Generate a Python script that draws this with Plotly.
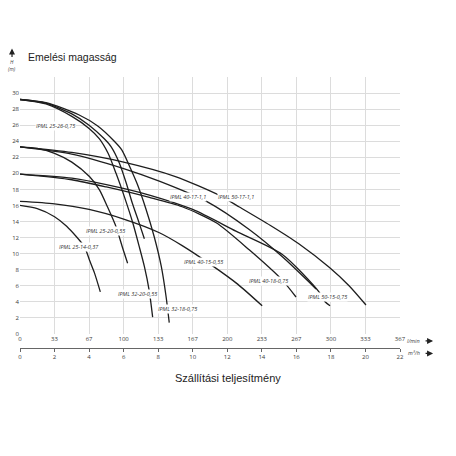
import plotly.graph_objects as go

# flow in m3/h, head in m
q_25_26 = [0, 1.5, 3.0, 4.0, 4.88, 5.28, 5.75, 6.15, 6.5, 6.9, 7.2]
h_25_26 = [29.2, 28.75, 27.4, 26.0, 24.3, 23.3, 21.3, 18.8, 16.3, 13.8, 11.85]

q_32_20 = [0, 1.5, 3.0, 4.0, 4.6, 5.1, 5.56, 6.04, 6.52, 6.9, 7.2, 7.48, 7.68]
h_32_20 = [29.2, 28.65, 27.1, 25.6, 24.3, 22.5, 20.0, 17.1, 13.9, 10.9, 8.4, 5.4, 2.1]

q_32_18 = [0, 1.5, 3.4, 4.5, 5.46, 5.9, 6.4, 6.8, 7.3, 7.77, 8.18, 8.46, 8.64]
h_32_18 = [29.2, 28.8, 27.3, 25.9, 24.0, 22.9, 20.6, 18.6, 15.5, 12.1, 8.4, 4.6, 1.4]

q_25_20 = [0, 1, 2, 3, 4.02, 4.6, 5.07, 5.57, 5.92, 6.23]
h_25_20 = [23.3, 23.1, 22.5, 21.4, 19.6, 17.95, 15.8, 13.3, 10.85, 8.8]

q_25_14 = [0, 1, 2, 2.7, 3.73, 4.02, 4.31, 4.65]
h_25_14 = [16.0, 15.6, 14.6, 13.4, 10.85, 9.2, 7.6, 5.24]

q_40_17 = [0, 3, 6, 8.1, 10.8, 13.27, 15.19, 17.14]
h_40_17 = [23.3, 22.4, 20.6, 19.0, 16.5, 13.0, 9.6, 5.6]

q_50_17 = [0, 3, 6, 9, 11.5, 12.7, 14.5, 16.16, 17.9, 19.05, 20.03]
h_50_17 = [23.3, 22.6, 21.4, 19.6, 17.3, 15.8, 13.5, 11.2, 8.3, 6.0, 3.6]

q_40_18 = [0, 3, 5, 7.49, 9.39, 11.36, 13.27, 15.17, 15.98]
h_40_18 = [19.9, 19.2, 18.3, 17.0, 15.84, 13.84, 10.47, 6.73, 4.6]

q_50_15 = [0, 3, 5, 7.49, 10, 12.5, 15.19, 17.31, 17.66, 17.95]
h_50_15 = [19.9, 19.4, 18.6, 17.3, 15.5, 12.8, 9.9, 5.24, 4.0, 3.5]

q_40_15 = [0, 2, 4, 6, 8.07, 9.39, 11.07, 12.6, 14.02]
h_40_15 = [16.5, 16.2, 15.5, 14.3, 12.6, 11.0, 8.6, 6.2, 3.5]

curves = [
    (q_25_26, h_25_26), (q_32_20, h_32_20), (q_32_18, h_32_18),
    (q_25_20, h_25_20), (q_25_14, h_25_14), (q_40_17, h_40_17),
    (q_50_17, h_50_17), (q_40_18, h_40_18), (q_50_15, h_50_15),
    (q_40_15, h_40_15),
]

pump_names = ["IPML 25-26-0,75", "IPML 25-20-0,55", "IPML 25-14-0,37",
              "IPML 32-20-0,55", "IPML 32-18-0,75", "IPML 40-17-1,1",
              "IPML 50-17-1,1", "IPML 40-15-0,55", "IPML 40-18-0,75",
              "IPML 50-15-0,75"]
label_q = [2.05, 4.95, 3.44, 6.8, 9.1, 9.74, 12.5, 10.6, 14.4, 17.8]
label_h = [25.9, 12.8, 10.85, 5.0, 3.1, 17.1, 17.1, 9.0, 6.6, 4.6]

m3h_ticks = [0, 2, 4, 6, 8, 10, 12, 14, 16, 18, 20, 22]
lmin_labels = ["0", "33", "67", "100", "133", "167", "200", "233", "267", "300", "333", "367"]
m3h_labels = [str(v) for v in m3h_ticks]
h_ticks = list(range(0, 34, 2))
h_labels = [str(v) for v in range(0, 32, 2)] + [""]

fig = go.Figure()
for q, h in curves:
    fig.add_trace(go.Scatter(x=q, y=h, mode="lines", showlegend=False, hoverinfo="skip",
                             line=dict(color="#1e1e1e", width=1.3, shape="spline", smoothing=0.7)))

# dummy trace for the lower m3/h axis
fig.add_trace(go.Scatter(x=[0, 22], y=[0, 0], xaxis="x2", mode="lines",
                         line=dict(width=0), showlegend=False, hoverinfo="skip"))

tick_font = dict(family="Open Sans", size=6, color="#3a3a3a")
unit_font = dict(family="Open Sans", size=5.5, color="#444")

for name, q, h in zip(pump_names, label_q, label_h):
    fig.add_annotation(x=q, y=h, text="<i>" + name + "</i>", showarrow=False,
                       font=dict(family="Open Sans", size=5.5, color="#333"),
                       bgcolor="white", borderpad=0)

fig.add_annotation(xref="paper", yref="paper", x=0.016, y=1.074, xanchor="left", yanchor="middle",
                   text="Emelési magasság", showarrow=False,
                   font=dict(family="Liberation Sans", size=10.5, color="#222"))
fig.add_annotation(xref="paper", yref="paper", x=0.548, y=-0.111, xanchor="center", yanchor="middle",
                   text="Szállítási teljesítmény", showarrow=False,
                   font=dict(family="Liberation Sans", size=11, color="#222"))
fig.add_annotation(xref="paper", yref="paper", x=-0.021, y=1.01, xanchor="center", yanchor="bottom",
                   text="<i>H</i><br><i>(m)</i>", showarrow=False,
                   font=dict(family="Open Sans", size=5, color="#444"))
fig.add_annotation(xref="paper", yref="paper", x=-0.021, y=1.105, ax=0, ay=10,
                   text="", showarrow=True, arrowhead=2, arrowsize=1, arrowwidth=1.2,
                   arrowcolor="#222")
fig.add_annotation(xref="paper", yref="paper", x=1.013, y=0.026, xanchor="left", yanchor="middle",
                   text="<i>l/min</i>", showarrow=False, font=unit_font)
fig.add_annotation(xref="paper", yref="paper", x=1.087, y=0.026, ax=-9, ay=0,
                   text="", showarrow=True, arrowhead=2, arrowsize=1, arrowwidth=1.2,
                   arrowcolor="#222")
fig.add_annotation(xref="paper", yref="paper", x=1.016, y=-0.02, xanchor="left", yanchor="middle",
                   text="<i>m³/h</i>", showarrow=False, font=unit_font)
fig.add_annotation(xref="paper", yref="paper", x=1.087, y=-0.02, ax=-9, ay=0,
                   text="", showarrow=True, arrowhead=2, arrowsize=1, arrowwidth=1.2,
                   arrowcolor="#222")

fig.update_layout(
    width=456, height=456,
    margin=dict(l=20, r=56, t=77, b=108),
    plot_bgcolor="white", paper_bgcolor="white",
    xaxis=dict(range=[0, 22], tickvals=m3h_ticks, ticktext=lmin_labels,
               showgrid=True, gridcolor="#dcdcdc", gridwidth=1, zeroline=False,
               showline=False, ticks="", tickfont=tick_font, anchor="y", automargin=False),
    xaxis2=dict(range=[0, 22], tickvals=m3h_ticks, ticktext=m3h_labels,
                overlaying="x", anchor="free", position=0, side="bottom",
                showgrid=False, zeroline=False, showline=True, linecolor="#666",
                linewidth=1, ticks="outside", ticklen=3, tickcolor="#666",
                tickfont=tick_font, automargin=False),
    yaxis=dict(domain=[0.052, 1], range=[0, 32], tickvals=h_ticks, ticktext=h_labels,
               showgrid=True, gridcolor="#dcdcdc", gridwidth=1, zeroline=False,
               showline=False, ticks="", tickfont=tick_font, automargin=False),
)

fig.write_html("out.html", config={"displayModeBar": False},
               post_script="document.body.style.margin='0';")
